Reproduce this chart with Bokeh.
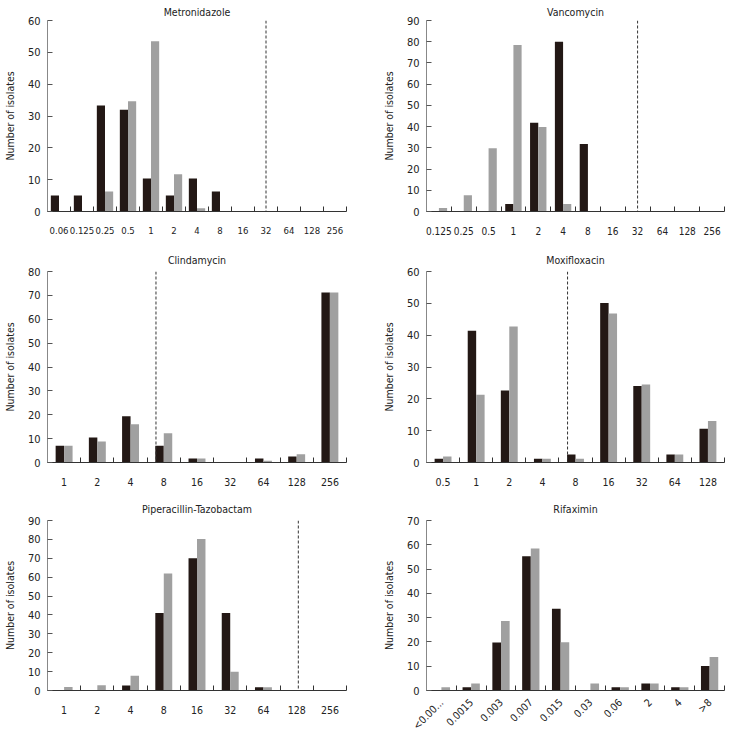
from bokeh.plotting import figure
from bokeh.layouts import gridplot
from bokeh.models import FixedTicker, Span, Range1d
from bokeh.embed import file_html
from bokeh.resources import INLINE
import math

# ---------------- data ----------------
met_cats = ["0.06", "0.125", "0.25", "0.5", "1", "2", "4", "8", "16", "32", "64", "128", "256"]
met_black = [5, 5, 33.3, 32, 10.4, 5, 10.4, 6.3, 0, 0, 0, 0, 0]
met_gray = [0, 0, 6.3, 34.6, 53.5, 11.7, 1.0, 0, 0, 0, 0, 0, 0]

van_cats = ["0.125", "0.25", "0.5", "1", "2", "4", "8", "16", "32", "64", "128", "256"]
van_black = [0, 0, 0, 3.5, 41.8, 80, 31.8, 0, 0, 0, 0, 0]
van_gray = [1.6, 7.6, 29.8, 78.5, 39.8, 3.5, 0, 0, 0, 0, 0, 0]

cli_cats = ["1", "2", "4", "8", "16", "32", "64", "128", "256"]
cli_black = [7, 10.5, 19.4, 7, 1.7, 0, 1.7, 2.5, 71.2]
cli_gray = [7, 8.8, 16, 12.3, 1.7, 0, 0.7, 3.5, 71.2]

mox_cats = ["0.5", "1", "2", "4", "8", "16", "32", "64", "128"]
mox_black = [1.2, 41.4, 22.6, 1.2, 2.5, 50.1, 24.0, 2.5, 10.6]
mox_gray = [1.9, 21.3, 42.7, 1.2, 1.2, 46.8, 24.5, 2.5, 13.0]

pip_cats = ["1", "2", "4", "8", "16", "32", "64", "128", "256"]
pip_black = [0, 0, 2.7, 41, 70, 41, 1.7, 0, 0]
pip_gray = [1.9, 2.8, 7.8, 62, 80.2, 9.9, 1.7, 0, 0]

rif_cats = ["<0.00...", "0.0015", "0.003", "0.007", "0.015", "0.03", "0.06", "2", "4", ">8"]
rif_black = [0, 1.3, 19.8, 55.3, 33.7, 0, 1.3, 2.9, 1.3, 10.1]
rif_gray = [1.3, 2.9, 28.6, 58.5, 19.9, 2.9, 1.3, 2.9, 1.3, 13.8]

titles = ["Metronidazole", "Vancomycin", "Clindamycin", "Moxifloxacin",
          "Piperacillin-Tazobactam", "Rifaximin"]
y_max = [60, 90, 80, 60, 90, 70]
y_step = 10
# breakpoint category (dashed line) and position inside the category
breakpoints = [("32", 0.0), ("32", 0.0), ("8", -0.235), ("8", -0.24), ("128", 0.05), None]

FONT = "'DejaVu Sans Condensed', 'Liberation Sans', sans-serif"
BLACK = "#231815"
GRAY = "#a0a0a0"

# per-row: (height, border top, border bottom, title standoff)
ROWS = [(244, 19, 33, 6), (244, 27, 26, 11), (250, 32, 38, 11)]


def make_panel(title, cats, black, gray, ymax, bp, bar_w, left_col, row, rotate=False, xfs="10.5px"):
    n = len(cats)
    centers = list(range(n))
    bounds = [i - 0.5 for i in range(n + 1)]
    if left_col:
        w, bl, br = 360, 40, 14
    else:
        w, bl, br = 368, 66, 4
    h, bt, bb, so = ROWS[row]
    p = figure(width=w, height=h, output_backend="svg", toolbar_location=None,
               x_range=Range1d(-0.5, n - 0.5), y_range=Range1d(0, ymax),
               min_border_left=bl, min_border_right=br, min_border_top=bt,
               min_border_bottom=bb)
    p.outline_line_color = None
    p.xgrid.grid_line_color = None
    p.ygrid.grid_line_color = None
    p.background_fill_color = "white"
    p.border_fill_color = "white"

    xb = [c - bar_w / 2 for c in centers]
    xg = [c + bar_w / 2 for c in centers]
    p.vbar(x=xb, top=black, width=bar_w, bottom=0, fill_color=BLACK, line_color=None)
    p.vbar(x=xg, top=gray, width=bar_w, bottom=0, fill_color=GRAY, line_color=None)

    if bp is not None:
        cat, off = bp
        loc = cats.index(cat) + off
        p.add_layout(Span(location=loc, dimension="height", line_color="#333333",
                          line_dash="3 2", line_width=1))

    p.title.text = title
    p.title.align = "center"
    p.title.text_font = FONT
    p.title.text_font_size = "10.5px"
    p.title.text_font_style = "normal"
    p.title.text_color = "#222222"
    p.title.standoff = so

    xa = p.xaxis[0]
    xa.ticker = FixedTicker(ticks=centers, minor_ticks=bounds)
    xa.major_label_overrides = {i: c for i, c in enumerate(cats)}
    xa.major_tick_line_color = None
    xa.minor_tick_in = 5
    xa.minor_tick_out = 0
    xa.minor_tick_line_color = "#333333"
    xa.axis_line_color = "#333333"
    xa.major_label_text_font = FONT
    xa.major_label_text_font_size = xfs
    xa.major_label_text_color = "#222222"
    xa.major_label_standoff = 9
    if rotate:
        xa.major_label_orientation = math.pi / 4
        xa.major_label_standoff = 4

    ya = p.yaxis[0]
    ya.ticker = FixedTicker(ticks=list(range(0, ymax + 1, y_step)))
    ya.major_tick_in = 5
    ya.major_tick_out = 0
    ya.minor_tick_line_color = None
    ya.axis_line_color = "#888888"
    ya.major_tick_line_color = "#555555"
    ya.axis_label = "Number of isolates"
    ya.axis_label_text_font = FONT
    ya.axis_label_text_font_size = "10.5px"
    ya.axis_label_text_font_style = "normal"
    ya.axis_label_text_color = "#222222"
    ya.axis_label_standoff = 9
    ya.major_label_text_font = FONT
    ya.major_label_text_font_size = "11px"
    ya.major_label_text_color = "#222222"
    ya.major_label_standoff = 7
    return p


p1 = make_panel(titles[0], met_cats, met_black, met_gray, y_max[0], breakpoints[0], 0.355, True, 0, xfs="9.5px")
p2 = make_panel(titles[1], van_cats, van_black, van_gray, y_max[1], breakpoints[1], 0.33, False, 0, xfs="10px")
p3 = make_panel(titles[2], cli_cats, cli_black, cli_gray, y_max[2], breakpoints[2], 0.255, True, 1)
p4 = make_panel(titles[3], mox_cats, mox_black, mox_gray, y_max[3], breakpoints[3], 0.255, False, 1)
p5 = make_panel(titles[4], pip_cats, pip_black, pip_gray, y_max[4], breakpoints[4], 0.255, True, 2)
p6 = make_panel(titles[5], rif_cats, rif_black, rif_gray, y_max[5], breakpoints[5], 0.29, False, 2, rotate=True)

grid = gridplot([[p1, p2], [p3, p4], [p5, p6]], toolbar_location=None)

open("out.html", "w").write(file_html(grid, INLINE))
